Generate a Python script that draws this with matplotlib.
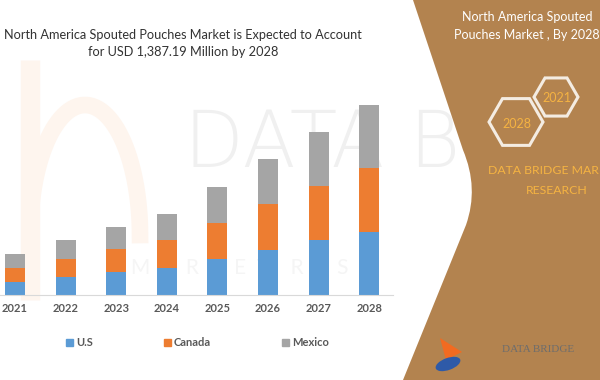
import numpy as np
import matplotlib.pyplot as plt
from matplotlib.patches import Patch, PathPatch, RegularPolygon, Ellipse, Polygon
from matplotlib.path import Path

# data (USD million)
years = ['2021', '2022', '2023', '2024', '2025', '2026', '2027', '2028']
us = [97, 129, 168, 197, 263, 331, 399, 462]
canada = [102, 136, 170, 204, 265, 331, 394, 467]
mexico = [98, 134, 156, 192, 263, 329, 394, 458]

c_us = '#5B9BD5'
c_ca = '#ED7D31'
c_mx = '#A5A5A5'
brown = '#B3834F'
gold = '#F5B342'

plt.rcParams['font.family'] = ['Lato', 'DejaVu Sans']

fig = plt.figure(figsize=(6, 3.8), dpi=100)

# background watermark layer (pixel coords)
bg = fig.add_axes([0, 0, 1, 1], zorder=0)
bg.set_xlim(0, 600)
bg.set_ylim(380, 0)
bg.axis('off')
bg.text(184, 145, 'DATA B', fontsize=56, color='#f0f0f0', ha='left', va='center',
        fontweight='light', family='DejaVu Sans')
bg.text(240, 268, 'M  A  R  K  E  T    R  E  S', fontsize=15, color='#f5f5f5',
        ha='center', va='center')
# faint orange "b" logo on the left
bg.plot([30, 30], [60, 300], color='#fef5ee', lw=14, solid_capstyle='butt')
t = np.linspace(np.pi, 0, 60)
bg.plot(30 + 55 * (1 - np.cos(t)), 235 - 130 * np.sin(t), color='#fef5ee', lw=12)

# chart
ax = fig.add_axes([0, 85 / 380, 393 / 600, 200 / 380], zorder=1)
ax.patch.set_alpha(0)
x = np.arange(len(years))
w = 0.395
bot2 = np.array(us) + np.array(canada)
ax.bar(x, us, w, color=c_us, label='U.S')
ax.bar(x, canada, w, bottom=us, color=c_ca, label='Canada')
ax.bar(x, mexico, w, bottom=bot2, color=c_mx, label='Mexico')
ax.set_xlim(-0.296, 7.47)
ax.set_ylim(0, 1460)
ax.set_xticks(x)
ax.set_xticklabels(years, fontsize=8, fontweight='bold', color='#595959')
ax.tick_params(axis='x', length=0, pad=6)
ax.set_yticks([])
for s in ['top', 'right', 'left']:
    ax.spines[s].set_visible(False)
ax.spines['bottom'].set_color('#d9d9d9')

handles = [Patch(color=c_us), Patch(color=c_ca), Patch(color=c_mx)]
leg = ax.legend(handles, ['U.S', 'Canada', 'Mexico'], ncol=3, frameon=False,
                loc='center left', bbox_to_anchor=(56 / 393, -48 / 200),
                handlelength=0.6, handleheight=0.6, handletextpad=0.3,
                columnspacing=6.4, prop={'size': 8, 'weight': 'bold'})
for txt in leg.get_texts():
    txt.set_color('#595959')

# title
fig.text(183 / 600, 1 - 35 / 380, 'North America Spouted Pouches Market is Expected to Account',
         ha='center', va='center', fontsize=9.2, color='#333333')
fig.text(183 / 600, 1 - 52 / 380, 'for USD 1,387.19 Million by 2028',
         ha='center', va='center', fontsize=9.2, color='#333333')

# right brown panel
ov = fig.add_axes([0, 0, 1, 1], zorder=2)
ov.set_xlim(0, 600)
ov.set_ylim(380, 0)
ov.axis('off')
verts = [(413, 0), (463, 150), (479, 188), (466, 225), (403, 380), (600, 380), (600, 0), (413, 0)]
codes = [Path.MOVETO, Path.LINETO, Path.CURVE3, Path.CURVE3, Path.LINETO, Path.LINETO,
         Path.LINETO, Path.CLOSEPOLY]
ov.add_patch(PathPatch(Path(verts, codes), facecolor=brown, edgecolor='none'))

ov.text(527, 17, 'North America Spouted', color='white', fontsize=9, ha='center', va='center')
ov.text(527, 35, 'Pouches Market , By 2028', color='white', fontsize=9, ha='center', va='center')

ov.add_patch(RegularPolygon((556, 97), 6, radius=22, orientation=np.pi / 6,
                            facecolor='none', edgecolor='#f4ece2', lw=2.2))
ov.add_patch(RegularPolygon((516, 122), 6, radius=27, orientation=np.pi / 6,
                            facecolor='none', edgecolor='#f4ece2', lw=2.2))
ov.text(557, 98, '2021', color=gold, fontsize=9, ha='center', va='center')
ov.text(517, 124, '2028', color=gold, fontsize=9, ha='center', va='center')

ov.text(599, 171, 'DATA BRIDGE MAR', color=gold, fontsize=8.8, ha='right', va='center')
ov.text(557, 190, 'RESEARCH', color=gold, fontsize=8.8, ha='center', va='center')

# logo
ov.add_patch(Polygon([[440, 338], [462, 352], [446, 360]], closed=True, facecolor='#F26B21'))
ov.add_patch(Ellipse((448, 364), 26, 12, angle=-20, facecolor='#2E5AA8'))
ov.text(502, 349, 'DATA BRIDGE', color='#6d6d6d', fontsize=8, family='Liberation Serif',
        ha='left', va='center')

fig.savefig('out.png', dpi=100)
